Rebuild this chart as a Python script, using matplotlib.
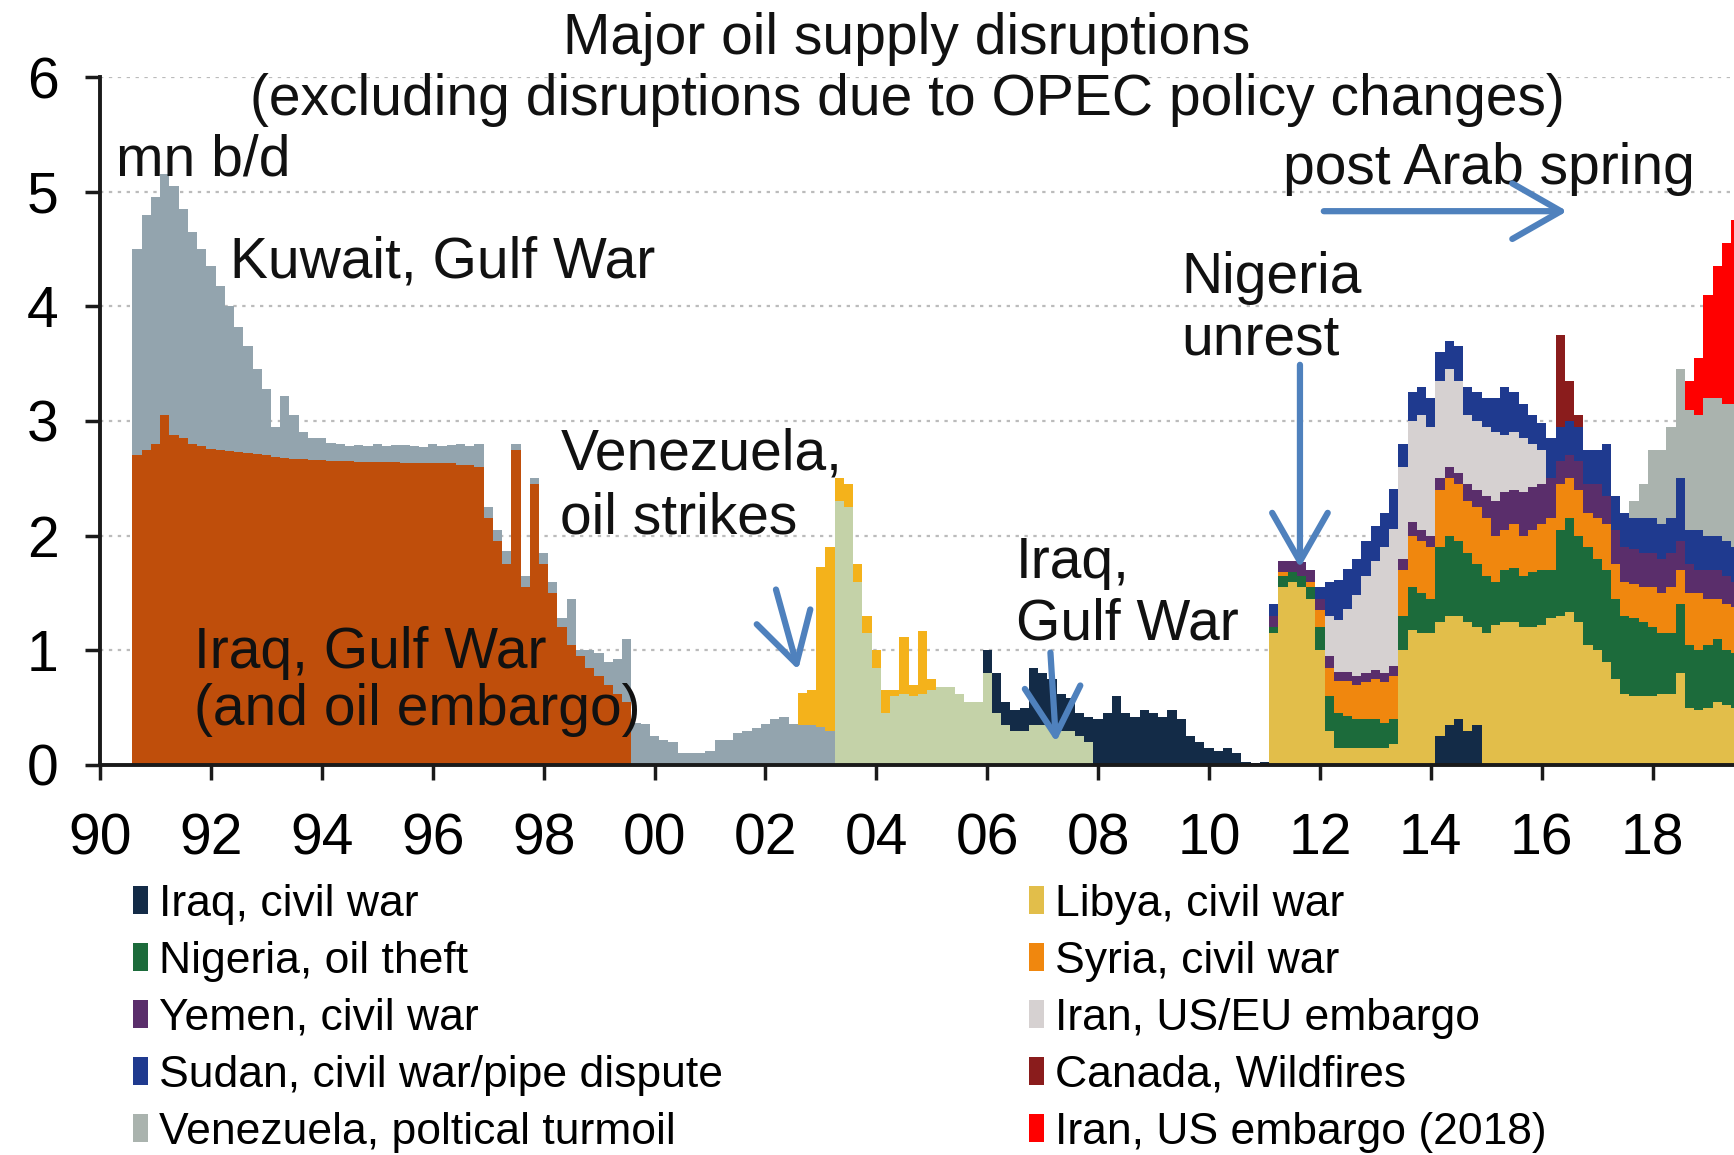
import numpy as np
import matplotlib
matplotlib.use("Agg")
import matplotlib.pyplot as plt
from matplotlib.patches import Patch

plt.rcParams['font.family'] = ['Liberation Sans', 'DejaVu Sans']

# Values are mn b/d, one per two-month bin.
# Each series starts at (year, month) of its first bin; bins run Aug 1990 -> mid 2019.
N_BINS = 174

iraq_gulf_war_start = (1990, 8)
iraq_gulf_war = [2.7, 2.75, 2.8, 3.05, 2.88, 2.85, 2.8, 2.78, 2.76, 2.75, 2.74, 2.73, 2.72, 2.71,
                 2.70, 2.69, 2.68, 2.67, 2.67, 2.66, 2.66,
                 2.65, 2.65, 2.65, 2.64, 2.64, 2.64, 2.64, 2.64, 2.63, 2.63, 2.63, 2.63, 2.63,
                 2.63, 2.62, 2.62,
                 2.6, 2.15, 1.95, 1.75, 2.75, 1.55, 2.45, 1.75, 1.5, 1.2, 1.05, 0.95, 0.85,
                 0.78, 0.7, 0.62, 0.55]

kuwait_gulf_war_start = (1990, 8)
kuwait_gulf_war = [1.8, 2.05, 2.15, 2.1, 2.17, 2.0, 1.85, 1.72, 1.59, 1.43, 1.26, 1.09, 0.93, 0.74,
                   0.58, 0.26, 0.54, 0.38, 0.23, 0.19, 0.19,
                   0.16, 0.15, 0.13, 0.15, 0.14, 0.16, 0.14, 0.15, 0.16, 0.15, 0.14, 0.17, 0.15,
                   0.16, 0.18, 0.16,
                   0.2, 0.1, 0.1, 0.12, 0.05, 0.1, 0.05, 0.1, 0.1, 0.08, 0.4, 0.05, 0.15, 0.2,
                   0.2, 0.3, 0.55,
                   0.37, 0.36, 0.25, 0.22, 0.2, 0.1, 0.1, 0.1, 0.12, 0.22, 0.22, 0.28, 0.3, 0.32,
                   0.36, 0.4, 0.42, 0.36, 0.35, 0.35, 0.33, 0.3]

iraq_2003_start = (2003, 4)
iraq_2003 = [2.3, 2.25, 1.6, 1.15, 0.85, 0.45, 0.6, 0.62, 0.6, 0.62, 0.65, 0.68, 0.68, 0.62,
             0.55, 0.55, 0.8, 0.45, 0.35, 0.3, 0.3, 0.35, 0.35, 0.35, 0.3, 0.3, 0.25, 0.2]

venezuela_strike_start = (2002, 8)
venezuela_strike = [0.28, 0.3, 1.4, 1.6, 0.2, 0.2, 0.15, 0.15, 0.15, 0.2, 0.05, 0.5, 0.1, 0.55, 0.1]

iraq_civil_war_start = (2005, 12)
iraq_civil_war = [0.2, 0.35, 0.2, 0.18, 0.2, 0.5, 0.45, 0.4, 0.32, 0.28, 0.2, 0.22, 0.4, 0.45,
                  0.6, 0.45, 0.42, 0.48, 0.45, 0.42, 0.48, 0.4, 0.25, 0.2, 0.15, 0.12, 0.15, 0.1,
                  0.03, 0.02, 0.03,
                  0, 0, 0, 0, 0, 0, 0, 0, 0, 0, 0, 0, 0, 0, 0, 0, 0, 0,
                  0.25, 0.35, 0.4, 0.3, 0.35]

arab_spring_start = (2011, 2)
libya = [1.15, 1.55, 1.6, 1.55, 1.45, 1.0, 0.3, 0.15, 0.15, 0.15, 0.15, 0.15, 0.15, 0.18,
         1.0, 1.18, 1.15, 1.15, 1.0, 0.95, 0.9, 0.95, 0.85, 1.15,
         1.22, 1.25, 1.25, 1.2, 1.2, 1.22, 1.28, 1.3, 1.33, 1.25, 1.05, 1.0, 0.9, 0.75, 0.62,
         0.6, 0.6, 0.6, 0.62, 0.62, 0.8, 0.5, 0.48, 0.5, 0.55, 0.52, 0.5]
nigeria = [0.05, 0.1, 0.08, 0.1, 0.1, 0.2, 0.3, 0.3, 0.28, 0.25, 0.25, 0.25, 0.22, 0.22,
           0.3, 0.37, 0.35, 0.3, 0.65, 0.7, 0.65, 0.6, 0.55, 0.5,
           0.38, 0.45, 0.47, 0.45, 0.48, 0.48, 0.42, 0.75, 0.82, 0.75, 0.85, 0.8, 0.8, 0.7, 0.68,
           0.68, 0.65, 0.6, 0.53, 0.53, 0.6, 0.55, 0.52, 0.55, 0.55, 0.48, 0.48]
syria = [0, 0.03, 0, 0, 0.05, 0.15, 0.25, 0.28, 0.3, 0.3, 0.32, 0.35, 0.35, 0.38,
         0.4, 0.45, 0.45, 0.45, 0.5, 0.5, 0.5, 0.45, 0.5, 0.5,
         0.4, 0.35, 0.38, 0.35, 0.37, 0.4, 0.45, 0.4, 0.35, 0.4, 0.3, 0.35, 0.4, 0.3, 0.3,
         0.3, 0.3, 0.35, 0.35, 0.4, 0.3, 0.45, 0.5, 0.4, 0.35, 0.4, 0.4]
yemen = [0.1, 0.1, 0.1, 0.12, 0.1, 0.1, 0.1, 0.08, 0.08, 0.08, 0.08, 0.08, 0.08, 0.08,
         0.1, 0.12, 0.1, 0.1, 0.1, 0.1, 0.1, 0.15, 0.15, 0.2,
         0.3, 0.33, 0.3, 0.38, 0.37, 0.35, 0.35, 0.2, 0.2, 0.25, 0.25, 0.3, 0.25, 0.3, 0.3,
         0.3, 0.3, 0.3, 0.3, 0.3, 0.25, 0.25, 0.2, 0.25, 0.25, 0.25, 0.22]
sudan = [0.1, 0, 0, 0, 0, 0.1, 0.3, 0.35, 0.35, 0.32, 0.3, 0.3, 0.3, 0.35,
         0.2, 0.25, 0.25, 0.25, 0.25, 0.25, 0.3, 0.25, 0.25, 0.25,
         0.3, 0.42, 0.35, 0.3, 0.25, 0.23, 0.35, 0.3, 0.3, 0.3, 0.3, 0.3, 0.45, 0.3, 0.3,
         0.27, 0.3, 0.3, 0.3, 0.3, 0.55, 0.3, 0.35, 0.3, 0.3, 0.3, 0.3]

iran_eu_start = (2012, 2)
iran_eu = [0.35, 0.45, 0.55, 0.7, 0.85, 0.95, 1.1, 1.2, 0.8, 0.88, 1.0, 0.95,
           0.85, 0.85, 0.8, 0.6, 0.6, 0.6, 0.6, 0.5, 0.5, 0.47, 0.38, 0.3]

canada_start = (2016, 4)
canada = [0.8, 0.35, 0.1]

venezuela_turmoil_start = (2017, 8)
venezuela_turmoil = [0.15, 0.3, 0.6, 0.65, 0.8, 0.95, 1.05, 1.0, 1.2, 1.2, 1.2, 1.25]

iran_2018_start = (2018, 8)
iran_2018 = [0.25, 0.5, 0.9, 1.15, 1.4, 1.6]

x_ticks = [1990, 1992, 1994, 1996, 1998, 2000, 2002, 2004, 2006, 2008, 2010, 2012, 2014, 2016, 2018]
x_tick_labels = ['90', '92', '94', '96', '98', '00', '02', '04', '06', '08', '10', '12', '14', '16', '18']
y_ticks = [0, 1, 2, 3, 4, 5, 6]

# stacking order, bottom to top
layers = [
    (None, iraq_gulf_war_start, iraq_gulf_war, '#BF4E0B'),
    (None, kuwait_gulf_war_start, kuwait_gulf_war, '#93A4AE'),
    (None, iraq_2003_start, iraq_2003, '#C4D2A8'),
    (None, venezuela_strike_start, venezuela_strike, '#F4B21B'),
    ('Iraq, civil war', iraq_civil_war_start, iraq_civil_war, '#132B47'),
    ('Libya, civil war', arab_spring_start, libya, '#E2BE4A'),
    ('Nigeria, oil theft', arab_spring_start, nigeria, '#1C6B3B'),
    ('Syria, civil war', arab_spring_start, syria, '#F0870E'),
    ('Yemen, civil war', arab_spring_start, yemen, '#5A2E6B'),
    ('Iran, US/EU embargo', iran_eu_start, iran_eu, '#D6D1D1'),
    ('Sudan, civil war/pipe dispute', arab_spring_start, sudan, '#1F3A8F'),
    ('Canada, Wildfires', canada_start, canada, '#8A1C1C'),
    ('Venezuela, poltical turmoil', venezuela_turmoil_start, venezuela_turmoil, '#AAB3AE'),
    ('Iran, US embargo (2018)', iran_2018_start, iran_2018, '#FF0000'),
]

fig = plt.figure(figsize=(17.34, 11.55), dpi=100)
ax = fig.add_axes([0.0577, 0.3377, 0.9423, 0.5956])

t_edges = 1990 + (7 + 2 * np.arange(N_BINS + 1)) / 12
tops = []
cum = np.zeros(N_BINS)
for label, start, vals, color in layers:
    k0 = ((start[0] - 1990) * 12 + start[1] - 8) // 2
    layer = np.zeros(N_BINS)
    layer[k0:k0 + len(vals)] = vals
    cum = cum + layer
    tops.append(cum.copy())

# paint from the top of the stack down so neighbouring layers leave no seams
for (label, start, vals, color), top in reversed(list(zip(layers, tops))):
    ax.fill_between(t_edges, 0, np.append(top, top[-1]), step='post',
                    facecolor=color, edgecolor='none', linewidth=0)

ax.set_xlim(1990, 1990 + (1734 - 100) / 55.45)
ax.set_ylim(0, 6)
ax.set_xticks(x_ticks)
ax.set_xticklabels(x_tick_labels)
ax.set_yticks(y_ticks)
ax.yaxis.grid(True, linestyle=(0, (1.5, 2.5)), color='#BBBBBB', linewidth=1.6)
ax.set_axisbelow(True)
for side in ['top', 'right']:
    ax.spines[side].set_visible(False)
for side in ['left', 'bottom']:
    ax.spines[side].set_linewidth(2.8)
    ax.spines[side].set_color('#1A1A1A')
ax.tick_params(axis='x', direction='out', length=11, width=2.5, labelsize=41, pad=23, color='#1A1A1A')
ax.tick_params(axis='y', direction='out', length=11, width=2.5, labelsize=41, pad=19, color='#1A1A1A')

# annotations
txt = dict(fontsize=41, color='#111111', ha='left', va='baseline')
ax.text(1990.29, 5.14, 'mn b/d', **txt)
ax.text(1992.34, 4.25, 'Kuwait, Gulf War', **txt)
ax.text(1998.3, 2.58, 'Venezuela,', **txt)
ax.text(1998.3, 2.02, 'oil strikes', **txt)
ax.text(1991.7, 0.85, 'Iraq, Gulf War', **txt)
ax.text(1991.7, 0.35, '(and oil embargo)', **txt)
ax.text(2006.52, 1.63, 'Iraq,', **txt)
ax.text(2006.52, 1.09, 'Gulf War', **txt)
ax.text(2009.5, 4.12, 'Nigeria', **txt)
ax.text(2009.5, 3.58, 'unrest', **txt)
ax.text(2011.34, 5.07, 'post Arab spring', **txt)

arrow = dict(arrowstyle='->,head_length=0.7,head_width=0.4', color='#4F81BD',
             lw=4.5, mutation_scale=50, shrinkA=0, shrinkB=0)
ax.annotate('', xy=(2002.59, 0.83), xytext=(2002.19, 1.53), arrowprops=arrow)
ax.annotate('', xy=(2007.24, 0.2), xytext=(2007.14, 0.98), arrowprops=arrow)
ax.annotate('', xy=(2011.64, 1.72), xytext=(2011.64, 3.49), arrowprops=arrow)
ax.annotate('', xy=(2016.46, 4.83), xytext=(2012.07, 4.83), arrowprops=arrow)

fig.text(0.523, 0.9536, 'Major oil supply disruptions', fontsize=41, ha='center', va='baseline', color='#111111')
fig.text(0.523, 0.9004, '(excluding disruptions due to OPEC policy changes)', fontsize=41,
         ha='center', va='baseline', color='#111111')

# legend: two columns, filled down each column
named = {label: color for label, start, vals, color in layers if label}
col1 = ['Iraq, civil war', 'Nigeria, oil theft', 'Yemen, civil war',
        'Sudan, civil war/pipe dispute', 'Venezuela, poltical turmoil']
col2 = ['Libya, civil war', 'Syria, civil war', 'Iran, US/EU embargo',
        'Canada, Wildfires', 'Iran, US embargo (2018)']
for names, x0 in [(col1, 0.0767), (col2, 0.5934)]:
    handles = [Patch(facecolor=named[n], edgecolor='none', label=n) for n in names]
    fig.legend(handles=handles, loc='upper left', bbox_to_anchor=(x0, 0.2348),
               frameon=False, fontsize=32, handlelength=0.34, handleheight=0.58,
               handletextpad=0.25, labelspacing=0.36, borderpad=0, borderaxespad=0)

fig.savefig('out.png', dpi=100)
